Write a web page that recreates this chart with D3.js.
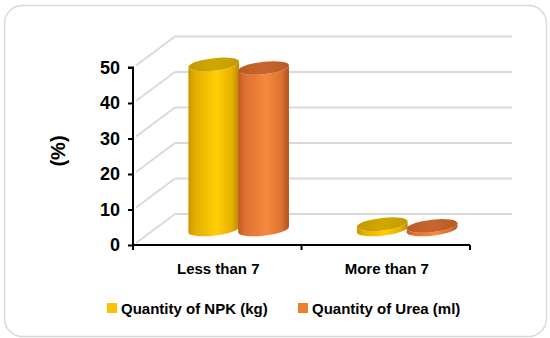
<!DOCTYPE html>
<html>
<head>
<meta charset="utf-8">
<script src="https://cdn.jsdelivr.net/npm/d3@7"></script>
<style>
  html, body { margin: 0; padding: 0; background: #fff; }
  svg text { font-family: "Liberation Sans", Arial, sans-serif; font-weight: bold; fill: #000; }
</style>
</head>
<body>
<svg id="chart" width="550" height="338"></svg>
<script>
// Data
const categories = ["Less than 7", "More than 7"];
const seriesNames = ["Quantity of NPK (kg)", "Quantity of Urea (ml)"];
const npkValues = [46.5, 1.5];
const ureaValues = [45.5, 1];
const yTicks = [0, 10, 20, 30, 40, 50];

const series = [
  { name: seriesNames[0], values: npkValues, key: "npk" },
  { name: seriesNames[1], values: ureaValues, key: "urea" }
];

const svg = d3.select("#chart");

// Frame
svg.append("rect")
  .attr("x", 4.5).attr("y", 5.5).attr("width", 542).attr("height", 331)
  .attr("rx", 18).attr("ry", 18)
  .attr("fill", "#fff").attr("stroke", "#d9d9d9").attr("stroke-width", 1.5);

// Plot geometry (front plane + depth offset of the 3D box)
const plotLeft = 133, plotRight = 470, plotBottom = 245, plotTop = 67.5;
const depthX = 42, depthY = -31;

const y = d3.scaleLinear().domain([0, 50]).range([plotBottom, plotTop]);
const x0 = d3.scaleBand().domain(categories).range([plotLeft, plotRight]).paddingInner(0).paddingOuter(0);
const x1 = d3.scaleBand().domain(series.map(s => s.key))
  .range([x0.bandwidth() * 0.21, x0.bandwidth() * 0.795]).padding(-0.02);

// Gradients
const defs = svg.append("defs");
function hGrad(id, stops) {
  const g = defs.append("linearGradient").attr("id", id)
    .attr("x1", "0%").attr("x2", "100%").attr("y1", "0%").attr("y2", "0%");
  stops.forEach(([o, c]) => g.append("stop").attr("offset", o).attr("stop-color", c));
}
hGrad("npkBody", [["0%", "#c89500"], ["12%", "#e3ad00"], ["55%", "#ffce05"], ["85%", "#e8b200"], ["100%", "#b98a00"]]);
hGrad("ureaBody", [["0%", "#bf5c1f"], ["12%", "#dc7030"], ["55%", "#f78a3d"], ["85%", "#dd7232"], ["100%", "#b0531c"]]);
hGrad("npkTop", [["0%", "#c49a00"], ["50%", "#d1a700"], ["100%", "#c49a00"]]);
hGrad("ureaTop", [["0%", "#b95a25"], ["50%", "#c7652d"], ["100%", "#b95a25"]]);

// Back wall gridlines and side diagonals
const grid = svg.append("g");
yTicks.forEach(t => {
  grid.append("line")
    .attr("x1", plotLeft + depthX).attr("x2", plotRight + depthX)
    .attr("y1", y(t) + depthY).attr("y2", y(t) + depthY)
    .attr("stroke", "#d9d9d9").attr("stroke-width", 1.8);
  grid.append("line")
    .attr("x1", plotLeft + 3).attr("y1", y(t) - 2)
    .attr("x2", plotLeft + depthX).attr("y2", y(t) + depthY)
    .attr("stroke", "#d9d9d9").attr("stroke-width", 1.8);
});

// Cylinders at mid depth
const midX = depthX / 2, midY = depthY / 2;
const skew = -6;
const bars = svg.append("g");
categories.forEach((cat, i) => {
  series.forEach(s => {
    const w = x1.bandwidth();
    const rx = w / 2, ry = 6.3;
    const cx = x0(cat) + x1(s.key) + w / 2 + midX;
    const yb = y(0) + midY;
    const h = y(0) - y(s.values[i]);
    const g = bars.append("g")
      .attr("transform", `translate(${cx},${yb}) skewY(${skew})`);
    g.append("path")
      .attr("d", `M${-rx},${-h} L${-rx},0 A${rx},${ry} 0 0 0 ${rx},0 L${rx},${-h} A${rx},${ry} 0 0 1 ${-rx},${-h} Z`)
      .attr("fill", `url(#${s.key}Body)`);
    g.append("ellipse")
      .attr("cx", 0).attr("cy", -h).attr("rx", rx).attr("ry", ry)
      .attr("fill", `url(#${s.key}Top)`);
  });
});

// Axes
const axisColor = "#000";
const yAxis = svg.append("g").attr("transform", `translate(${plotLeft},0)`)
  .call(d3.axisLeft(y).tickValues(yTicks).tickSize(5).tickPadding(8).tickFormat(d3.format("d")));
yAxis.select(".domain").attr("stroke", axisColor).attr("stroke-width", 2).attr("d", `M-5,${plotTop}H0V${plotBottom}`);
yAxis.selectAll(".tick line").attr("stroke", axisColor).attr("stroke-width", 2);
yAxis.selectAll(".tick text").attr("font-size", 18).attr("fill", "#000");

const xAxis = svg.append("g").attr("transform", `translate(0,${plotBottom})`);
xAxis.append("line").attr("x1", plotLeft).attr("x2", plotRight).attr("y1", 0).attr("y2", 0)
  .attr("stroke", axisColor).attr("stroke-width", 2);
const xTickPos = categories.map(c => x0(c)).concat([plotRight]);
xAxis.selectAll(".xt").data(xTickPos).enter().append("line")
  .attr("x1", d => d).attr("x2", d => d).attr("y1", 0).attr("y2", 5)
  .attr("stroke", axisColor).attr("stroke-width", 2);
xAxis.selectAll(".xl").data(categories).enter().append("text")
  .attr("x", d => x0(d) + x0.bandwidth() / 2 + 1).attr("y", 29)
  .attr("text-anchor", "middle").attr("font-size", 15).text(d => d);

// Y axis title
svg.append("text")
  .attr("transform", "translate(65,151) rotate(-90)")
  .attr("text-anchor", "middle").attr("font-size", 20).text("(%)");

// Legend
const legendColors = { npk: "#ffc000", urea: "#ed7d31" };
const legendX = [107, 298];
const legend = svg.append("g");
series.forEach((s, i) => {
  legend.append("rect").attr("x", legendX[i]).attr("y", 303).attr("width", 10).attr("height", 10)
    .attr("fill", legendColors[s.key]);
  legend.append("text").attr("x", legendX[i] + 14).attr("y", 313.5)
    .attr("font-size", 15).text(s.name);
});
</script>
</body>
</html>
